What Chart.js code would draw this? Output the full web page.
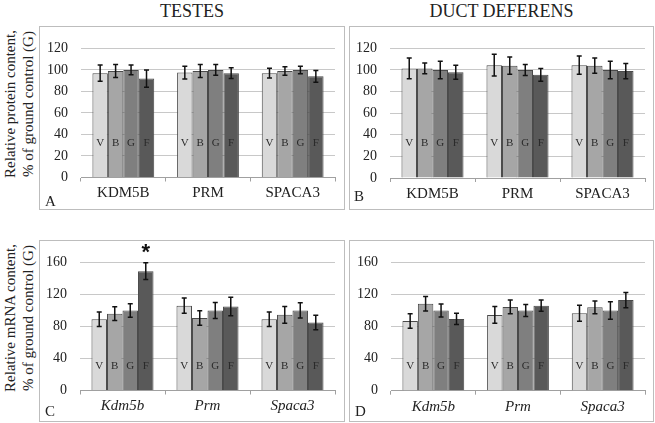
<!DOCTYPE html>
<html><head><meta charset="utf-8">
<script src="https://cdn.jsdelivr.net/npm/chart.js@4"></script>
<style>
body{margin:0;background:#fff;width:655px;height:423px;position:relative;overflow:hidden;font-family:"Liberation Serif","Times New Roman",serif;color:#222}
.box{position:absolute;border:1px solid #bdbdbd;box-sizing:border-box}
canvas{position:absolute}
.title{position:absolute;font-size:18px;line-height:22px;top:0;text-align:center}
.ytitle{position:absolute;transform:rotate(-90deg);font-size:15px;line-height:18px;text-align:center;white-space:nowrap}
.plab{position:absolute;font-size:15px;line-height:16px}
</style>
</head><body>
<div class="title" style="left:40px;width:304px">TESTES</div>
<div class="title" style="left:350px;width:303px">DUCT DEFERENS</div>
<div class="ytitle" style="left:-81px;top:86px;width:200px;height:36px">Relative protein content,<br>% of ground control (G)</div>
<div class="ytitle" style="left:-81px;top:300px;width:200px;height:36px">Relative mRNA content,<br>% of ground control (G)</div>
<div class="box" style="left:39px;top:26px;width:306px;height:184px"></div>
<div class="box" style="left:349px;top:26px;width:305px;height:184px"></div>
<div class="box" style="left:39px;top:240px;width:306px;height:182px"></div>
<div class="box" style="left:349px;top:240px;width:305px;height:182px"></div>
<canvas id="cA" width="304" height="182" style="left:40px;top:27px"></canvas>
<canvas id="cB" width="303" height="182" style="left:350px;top:27px"></canvas>
<canvas id="cC" width="304" height="180" style="left:40px;top:241px"></canvas>
<canvas id="cD" width="303" height="180" style="left:350px;top:241px"></canvas>
<div class="plab" style="left:45px;top:193px">A</div>
<div class="plab" style="left:354px;top:188px">B</div>
<div class="plab" style="left:45px;top:403px">C</div>
<div class="plab" style="left:355px;top:403px">D</div>
<script>
// ---- data ----
const groups = ['V', 'B', 'G', 'F'];
const proteinCategories = ['KDM5B', 'PRM', 'SPACA3'];
const mrnaCategories = ['Kdm5b', 'Prm', 'Spaca3'];
const proteinTicks = [0, 20, 40, 60, 80, 100, 120];
const mrnaTicks = [0, 40, 80, 120, 160];

// A: testes protein
const testesProteinV = [97, 97.5, 97];
const testesProteinB = [99, 99, 99];
const testesProteinG = [100, 100, 100];
const testesProteinF = [92, 97, 94];
const testesProteinVErr = [7.5, 6, 4.5];
const testesProteinBErr = [6, 6, 4];
const testesProteinGErr = [4.5, 5, 3.5];
const testesProteinFErr = [8, 5, 5.5];

// B: duct deferens protein
const ductProteinV = [101.5, 104.5, 104.5];
const ductProteinB = [101.5, 104, 104];
const ductProteinG = [100, 100, 100];
const ductProteinF = [98, 95.5, 99];
const ductProteinVErr = [9.5, 10, 8.5];
const ductProteinBErr = [5, 8, 7];
const ductProteinGErr = [8, 5, 8];
const ductProteinFErr = [6.5, 6, 7];

// C: testes mRNA
const testesMrnaV = [89, 106, 89];
const testesMrnaB = [96, 90.5, 94.5];
const testesMrnaG = [100, 100, 100];
const testesMrnaF = [149, 105, 85];
const testesMrnaVErr = [9, 9.5, 9];
const testesMrnaBErr = [8.5, 9, 10.5];
const testesMrnaGErr = [8.5, 10, 9.5];
const testesMrnaFErr = [10.5, 11.5, 9];

// D: duct deferens mRNA
const ductMrnaV = [87, 94.5, 96.5];
const ductMrnaB = [108.5, 104.5, 104];
const ductMrnaG = [100, 100, 100];
const ductMrnaF = [89.5, 106, 113];
const ductMrnaVErr = [9, 10.5, 10];
const ductMrnaBErr = [9, 8.5, 8];
const ductMrnaGErr = [8, 7.5, 11];
const ductMrnaFErr = [7, 7, 9.5];

const barColors = ['#d9d9d9', '#a6a6a6', '#7f7f7f', '#595959'];

// ---- plugin: error bars, in-bar letters, significance star ----
const extras = {
  id: 'extras',
  afterDatasetsDraw(chart, args, opts) {
    const ctx = chart.ctx, y = chart.scales.y;
    chart.data.datasets.forEach((ds, di) => {
      const meta = chart.getDatasetMeta(di);
      meta.data.forEach((bar, i) => {
        const m = ds.data[i], e = ds.errors[i];
        const yt = y.getPixelForValue(m + e), yb = y.getPixelForValue(m - e);
        ctx.save();
        ctx.fillStyle = '#2a2a2a';
        ctx.font = '11px "Liberation Serif"';
        ctx.textAlign = 'center'; ctx.textBaseline = 'middle';
        ctx.fillText(ds.label, bar.x, y.getPixelForValue(opts.letterValue));
        ctx.strokeStyle = '#111'; ctx.lineWidth = 1.5;
        ctx.beginPath();
        ctx.moveTo(bar.x, yt); ctx.lineTo(bar.x, yb);
        ctx.moveTo(bar.x - 2.5, yt); ctx.lineTo(bar.x + 2.5, yt);
        ctx.moveTo(bar.x - 2.5, yb); ctx.lineTo(bar.x + 2.5, yb);
        ctx.stroke();
        if (opts.star && opts.star.dataset === di && opts.star.index === i) {
          ctx.fillStyle = '#111';
          ctx.font = 'bold 22px "Liberation Sans"';
          ctx.textBaseline = 'middle';
          ctx.fillText('*', bar.x, yt - 10);
        }
        ctx.restore();
      });
    });
  }
};

function makeChart(id, cats, series, errs, ticks, italic, pad, yWidth, xHeight, letterValue, star) {
  const maxV = ticks[ticks.length - 1], step = ticks[1] - ticks[0];
  new Chart(document.getElementById(id), {
    type: 'bar',
    data: {
      labels: cats,
      datasets: groups.map((g, k) => ({
        label: g, data: series[k], errors: errs[k],
        backgroundColor: barColors[k], borderColor: '#4a4a4a', borderWidth: 1,
        categoryPercentage: 0.73, barPercentage: 1.0
      }))
    },
    options: {
      responsive: false, animation: false, devicePixelRatio: 1,
      layout: { padding: pad },
      plugins: { legend: { display: false }, tooltip: { enabled: false },
        extras: { letterValue: letterValue, star: star } },
      scales: {
        x: {
          offset: true,
          grid: { offset: true, drawOnChartArea: false, drawTicks: true, tickLength: 4, color: '#a0a0a0' },
          border: { color: '#a0a0a0' },
          ticks: { color: '#222', padding: 3,
            font: { family: '"Liberation Serif"', size: 15, style: italic ? 'italic' : 'normal' } },
          afterFit: s => { s.height = xHeight; }
        },
        y: {
          min: 0, max: maxV,
          grid: { color: '#c8c8c8', drawTicks: false },
          border: { display: false },
          ticks: { stepSize: step, color: '#222', padding: 13,
            font: { family: '"Liberation Serif"', size: 14 } },
          afterFit: s => { s.width = yWidth; }
        }
      }
    },
    plugins: [extras]
  });
}

makeChart('cA', proteinCategories,
  [testesProteinV, testesProteinB, testesProteinG, testesProteinF],
  [testesProteinVErr, testesProteinBErr, testesProteinGErr, testesProteinFErr],
  proteinTicks, false, { top: 13, right: 9, left: 0, bottom: 0 }, 41, 31.5, 32, null);
makeChart('cB', proteinCategories,
  [ductProteinV, ductProteinB, ductProteinG, ductProteinF],
  [ductProteinVErr, ductProteinBErr, ductProteinGErr, ductProteinFErr],
  proteinTicks, false, { top: 13, right: 8, left: 0, bottom: 0 }, 40, 31, 32, null);
makeChart('cC', mrnaCategories,
  [testesMrnaV, testesMrnaB, testesMrnaG, testesMrnaF],
  [testesMrnaVErr, testesMrnaBErr, testesMrnaGErr, testesMrnaFErr],
  mrnaTicks, true, { top: 11.7, right: 9, left: 0, bottom: 0 }, 40, 30.5, 31, { dataset: 3, index: 0 });
makeChart('cD', mrnaCategories,
  [ductMrnaV, ductMrnaB, ductMrnaG, ductMrnaF],
  [ductMrnaVErr, ductMrnaBErr, ductMrnaGErr, ductMrnaFErr],
  mrnaTicks, true, { top: 11.7, right: 8, left: 0, bottom: 0 }, 41, 30.3, 31, null);
</script>
</body></html>
